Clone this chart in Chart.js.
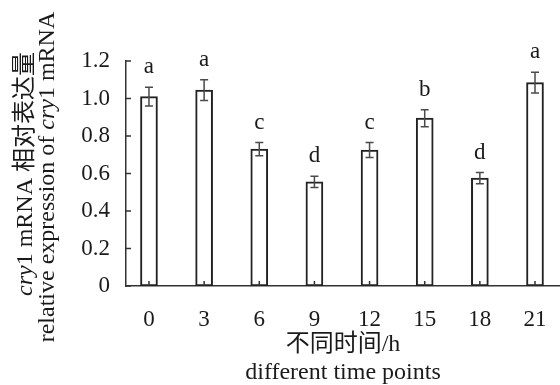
<!DOCTYPE html>
<html>
<head>
<meta charset="utf-8">
<script src="https://cdn.jsdelivr.net/npm/chart.js@4"></script>
<style>
  html, body { margin: 0; padding: 0; background: #fff; }
  #wrap { width: 560px; height: 385px; }
</style>
</head>
<body>
<div id="wrap"><canvas id="chartCry1"></canvas></div>
<script>
// ---- 数据 ----
const TIMES = [0, 3, 6, 9, 12, 15, 18, 21];
const EXPR = [1.01, 1.045, 0.73, 0.555, 0.725, 0.895, 0.575, 1.085];
const ERR = [0.05, 0.055, 0.035, 0.03, 0.04, 0.045, 0.03, 0.055];
const LETTERS = ['a', 'a', 'c', 'd', 'c', 'b', 'd', 'a'];
const Y_TICKS = [0, 0.2, 0.4, 0.6, 0.8, 1.0, 1.2];

const SERIF = '"Liberation Serif", "Times New Roman", "Noto Sans CJK SC", serif';
const INK = '#1a1a1a';
const AXIS = '#333';

// 误差线 + 显著性字母
const errorBars = {
    id: 'errorBars',
    afterDatasetsDraw(chart) {
        const { ctx, scales: { x, y } } = chart;
        ctx.save();
        ctx.strokeStyle = '#4a4a4a';
        ctx.lineWidth = 1.5;
        TIMES.forEach((t, i) => {
            const px = x.getPixelForValue(t);
            const top = y.getPixelForValue(EXPR[i] + ERR[i]);
            const bot = y.getPixelForValue(EXPR[i] - ERR[i]);
            ctx.beginPath();
            ctx.moveTo(px, top); ctx.lineTo(px, bot);
            ctx.moveTo(px - 4, top); ctx.lineTo(px + 4, top);
            ctx.moveTo(px - 4, bot); ctx.lineTo(px + 4, bot);
            ctx.stroke();
            ctx.fillStyle = INK;
            ctx.font = '23px ' + SERIF;
            ctx.textAlign = 'center';
            ctx.textBaseline = 'middle';
            ctx.fillText(LETTERS[i], px, top - 20);
        });
        ctx.restore();
    }
};

// 向内的刻度线 + 纵轴标题（cry 斜体）
const innerTicks = {
    id: 'innerTicks',
    afterDraw(chart) {
        const { ctx, chartArea: a, scales: { x, y } } = chart;
        ctx.save();
        ctx.strokeStyle = AXIS;
        ctx.lineWidth = 1.5;
        ctx.beginPath();
        TIMES.forEach(t => {
            const px = x.getPixelForValue(t);
            ctx.moveTo(px, a.bottom); ctx.lineTo(px, a.bottom - 5);
        });
        Y_TICKS.forEach(v => {
            const py = y.getPixelForValue(v);
            ctx.moveTo(a.left, py); ctx.lineTo(a.left + 5, py);
        });
        ctx.stroke();

        drawRich(ctx, [['italic', 'cry'], ['', '1 mRNA 相对表达量']], 26, 174);
        drawRich(ctx, [['', 'relative expression of '], ['italic', 'cry'], ['', '1 mRNA']], 48, 177);
        ctx.restore();
    }
};

function drawRich(ctx, segs, cx, cy) {
    ctx.save();
    ctx.translate(cx, cy);
    ctx.rotate(-Math.PI / 2);
    ctx.fillStyle = INK;
    ctx.textBaseline = 'middle';
    ctx.textAlign = 'left';
    const fonts = segs.map(s => (s[0] ? s[0] + ' ' : '') + '24px ' + SERIF);
    const widths = segs.map((s, i) => { ctx.font = fonts[i]; return ctx.measureText(s[1]).width; });
    let pos = -widths.reduce((p, w) => p + w, 0) / 2;
    segs.forEach((s, i) => {
        ctx.font = fonts[i];
        ctx.fillText(s[1], pos, 0);
        pos += widths[i];
    });
    ctx.restore();
}

function initCry1Chart() {
    const canvas = document.getElementById('chartCry1');
    new Chart(canvas, {
        type: 'bar',
        data: {
            datasets: [{
                data: TIMES.map((t, i) => ({ x: t, y: EXPR[i] })),
                backgroundColor: '#fff',
                borderColor: '#222',
                borderWidth: 2,
                borderSkipped: false,
                barThickness: 17,
            }]
        },
        options: {
            responsive: true, maintainAspectRatio: false,
            animation: false,
            layout: { padding: { left: 82, top: 61, right: 0, bottom: 0 } },
            plugins: { legend: { display: false }, tooltip: { enabled: false } },
            scales: {
                x: {
                    type: 'linear', min: -1.25, max: 22.36, offset: false,
                    afterBuildTicks: s => { s.ticks = TIMES.map(v => ({ value: v })); },
                    afterFit: s => { s.height = 99; },
                    grid: { display: false, offset: false },
                    border: { display: true, color: AXIS, width: 1.5 },
                    ticks: { color: INK, padding: 12, font: { family: SERIF, size: 23 } },
                    title: {
                        display: true, text: ['不同时间/h', 'different time points'],
                        color: INK, padding: { top: 0, bottom: -2 },
                        font: { family: SERIF, size: 24, lineHeight: 28 / 24 }
                    }
                },
                y: {
                    min: 0, max: 1.2,
                    afterBuildTicks: s => { s.ticks = Y_TICKS.map(v => ({ value: v })); },
                    afterFit: s => { s.width = 44; },
                    grid: { display: false, drawTicks: false },
                    border: { display: true, color: AXIS, width: 1.5 },
                    ticks: {
                        color: INK, padding: 16, font: { family: SERIF, size: 23 },
                        callback: v => v === 0 ? '0' : v.toFixed(1)
                    }
                }
            }
        },
        plugins: [errorBars, innerTicks]
    });
}

initCry1Chart();
</script>
</body>
</html>
